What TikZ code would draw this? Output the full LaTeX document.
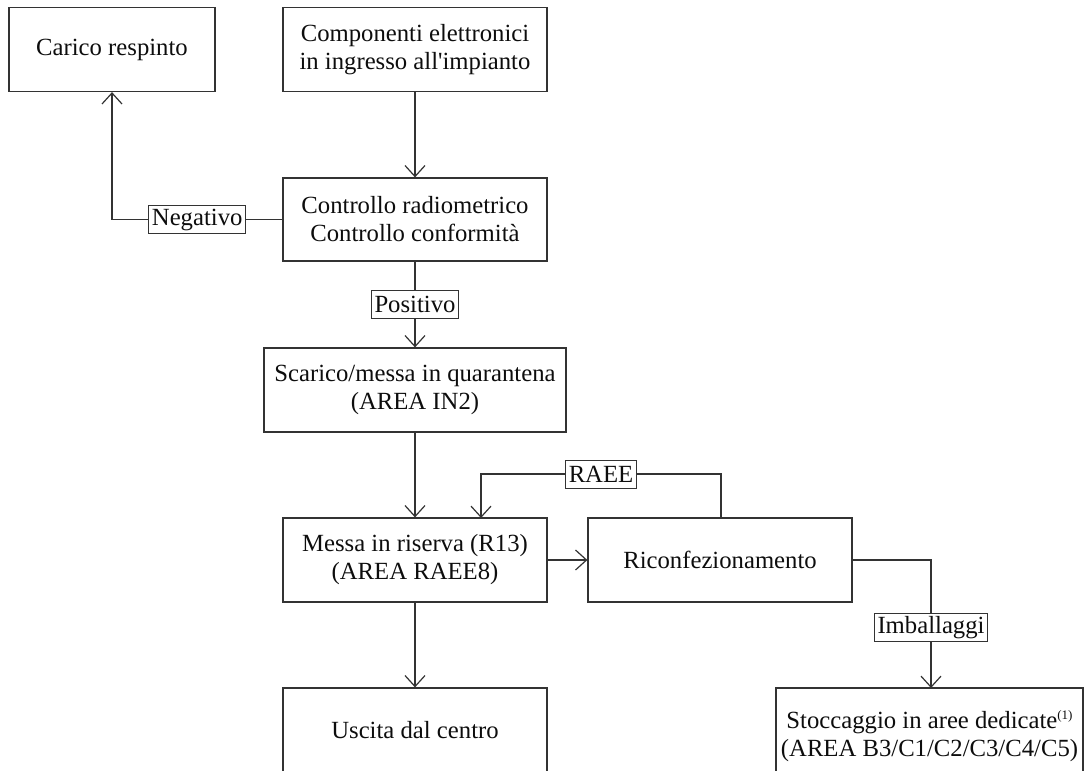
\documentclass[tikz,border=0pt]{standalone}
\usepackage{fontspec}
% a family without TeX ligatures, so that ' stays a straight apostrophe
\newfontfamily\diagfont{Liberation Serif}
\usetikzlibrary{arrows.meta}
\begin{document}
\begin{tikzpicture}[x=0.5pt,y=-0.5pt,
  every node/.style={font=\diagfont\fontsize{12.35}{14}\selectfont, text=black!95},
  box/.style={draw=black!80, line width=0.6pt, align=center, inner sep=0pt, minimum height=42pt, minimum width=132pt},
  lab/.style={draw=black!80, fill=white, line width=0.5pt, inner xsep=1.5pt, inner ysep=0pt, minimum height=14pt},
  link/.style={draw=black!80, line width=0.6pt},
  arr/.style={link, -{Straight Barb[length=5.5pt,width=10pt]}},
]
\useasboundingbox (0,0) rectangle (1087,771);

% process boxes
\node[box, minimum width=103pt] (carico) at (112,49.5) {Carico respinto};
\node[box] (comp) at (415,49.5) {Componenti elettronici\\in ingresso all'impianto};
\node[box, minimum height=41.5pt] (ctrl) at (415,219.5) {Controllo radiometrico\\Controllo conformità};
\node[box, minimum width=151pt] (scarico) at (415,390) {Scarico/messa in quarantena\\(AREA IN2)};
\node[box] (messa) at (415,560) {Messa in riserva (R13)\\(AREA RAEE8)};
\node[box] (riconf) at (720,560) {Riconfezionamento};
\node[box] (uscita) at (415,730) {Uscita dal centro};
\node[box, minimum width=153.5pt, minimum height=48pt] (stocc) at (929.5,736)
  {Stoccaggio in aree dedicate\raisebox{0.8ex}{\fontsize{6.5}{7}\selectfont(1)}\\(AREA B3/C1/C2/C3/C4/C5)};

% connectors
\draw[arr] (comp) -- (ctrl);
\draw[arr] (ctrl.west) -- node[lab] (neg) {Negativo} (carico.south |- ctrl.west) -- (carico.south);
\draw[arr] (ctrl) -- node[lab] (pos) {Positivo} (scarico);
\draw[arr] (scarico) -- (messa);
\draw[arr] (messa) -- (riconf);
\draw[arr] (messa) -- (uscita);
\coordinate (raeein) at (481,518);
\coordinate (raeeout) at (721,518);
\draw[arr] (raeeout) -- (721,474) -- node[lab] (raee) {RAEE} (481,474) -- (raeein);
\coordinate (imbin) at (931,688);
\draw[arr] (riconf.east) -- (imbin |- riconf.east) -- node[lab, pos=0.53] (imb) {Imballaggi} (imbin);
\end{tikzpicture}
\end{document}
